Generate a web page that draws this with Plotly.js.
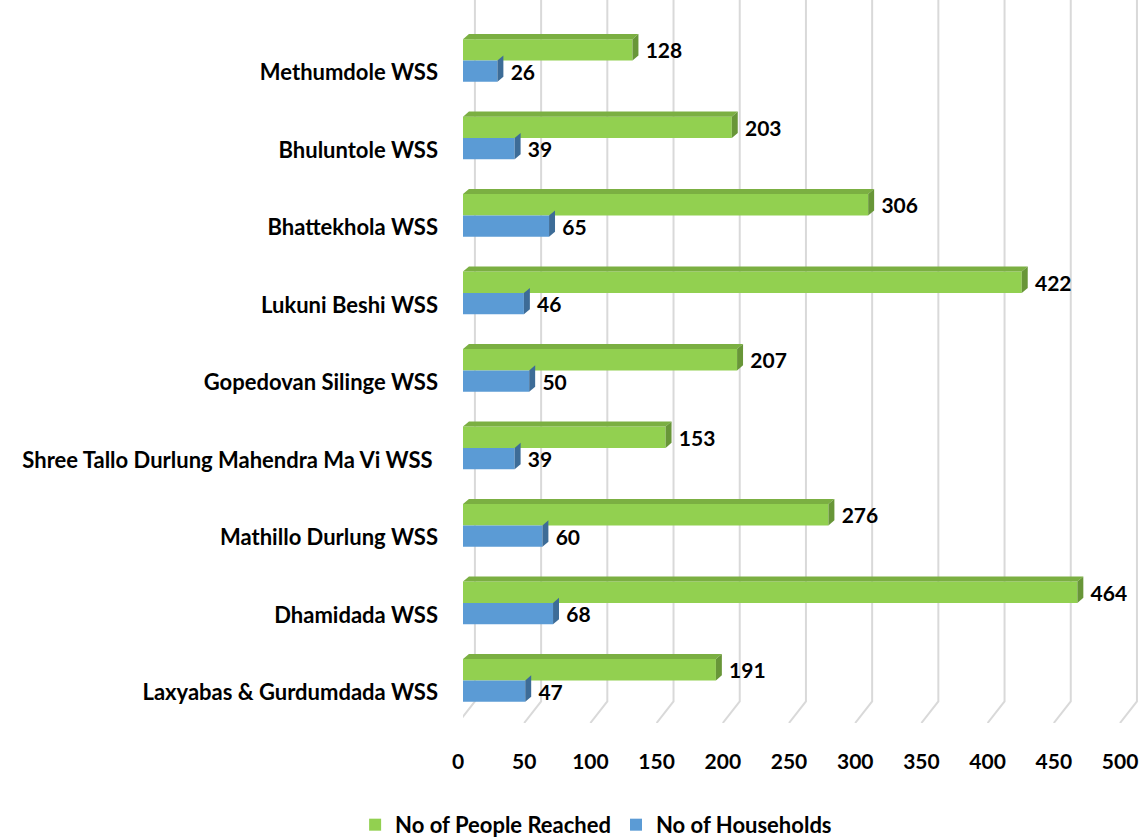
<!DOCTYPE html>
<html>
<head>
<meta charset="utf-8">
<script src="https://cdn.plot.ly/plotly-3.0.1.min.js"></script>
<style>html,body{margin:0;padding:0;background:#fff;}#chart{width:1142px;height:840px;}</style>
</head>
<body>
<div id="chart"></div>
<script>
var categories = [
  "Methumdole WSS",
  "Bhuluntole WSS",
  "Bhattekhola WSS",
  "Lukuni Beshi WSS",
  "Gopedovan Silinge WSS",
  "Shree Tallo Durlung Mahendra Ma Vi WSS ",
  "Mathillo Durlung WSS",
  "Dhamidada WSS",
  "Laxyabas & Gurdumdada WSS"
];
var peopleReached = [128, 203, 306, 422, 207, 153, 276, 464, 191];
var households = [26, 39, 65, 46, 50, 39, 60, 68, 47];
var seriesNames = ["No of People Reached", "No of Households"];
var xTickVals = [0, 50, 100, 150, 200, 250, 300, 350, 400, 450, 500];

var FONT = "Lato, 'Open Sans', sans-serif";
var idx = categories.map(function (c, i) { return i; });
var BW = 0.275;          // bar thickness (category units)
var DX = 4.5;            // depth in x data units
var DY = 0.065;          // depth in category units
var GREEN = "#92D050", GREEN_TOP = "#7BAF42", GREEN_SIDE = "#689638";
var BLUE = "#5B9BD5", BLUE_SIDE = "#3D6C97";

function poly(pts) {
  return "M" + pts.map(function (p) { return p[0] + "," + p[1]; }).join(" L") + " Z";
}

var shapes = [];
// back wall gridlines with floor slant
xTickVals.forEach(function (v) {
  shapes.push({
    type: "path", xref: "x", yref: "y", layer: "below",
    path: "M" + (v + 9) + ",-0.8 L" + (v + 9) + ",8.27 L" + (v - 3.8) + ",8.55",
    line: { color: "#D9D9D9", width: 2 }
  });
});
// 3D faces for bars
idx.forEach(function (i) {
  var v = peopleReached[i], h = households[i];
  var gTop = i - BW, gBot = i;
  shapes.push({ type: "path", xref: "x", yref: "y", line: { width: 0 }, fillcolor: GREEN_TOP,
    path: poly([[0, gTop], [v, gTop], [v + DX, gTop - DY], [DX, gTop - DY]]) });
  shapes.push({ type: "path", xref: "x", yref: "y", line: { width: 0 }, fillcolor: GREEN_SIDE,
    path: poly([[v, gTop], [v + DX, gTop - DY], [v + DX, gBot - DY], [v, gBot]]) });
  var bTop = i, bBot = i + BW;
  shapes.push({ type: "path", xref: "x", yref: "y", line: { width: 0 }, fillcolor: BLUE_SIDE,
    path: poly([[h, bTop], [h + DX, bTop - DY], [h + DX, bBot - DY], [h, bBot]]) });
});

var labelFont = { family: FONT, size: 21, color: "#000", weight: "bold" };

var traces = [
  {
    type: "bar", orientation: "h", name: seriesNames[0],
    x: peopleReached, y: idx,
    marker: { color: GREEN, line: { width: 0 } },
    text: peopleReached.map(function (v) { return "\u00a0\u00a0" + v; }),
    textposition: "outside", textfont: labelFont, constraintext: "none", cliponaxis: false,
    hoverinfo: "x+name"
  },
  {
    type: "bar", orientation: "h", name: seriesNames[1],
    x: households, y: idx,
    marker: { color: BLUE, line: { width: 0 } },
    text: households.map(function (v) { return "\u00a0\u00a0" + v; }),
    textposition: "outside", textfont: labelFont, constraintext: "none", cliponaxis: false,
    hoverinfo: "x+name"
  }
];

var layout = {
  width: 1142, height: 840,
  paper_bgcolor: "#fff", plot_bgcolor: "rgba(0,0,0,0)",
  margin: { l: 463, r: 2, t: 0, b: 117, autoexpand: false },
  barmode: "group", bargap: 0.45, bargroupgap: 0,
  font: { family: FONT, size: 21, color: "#000" },
  showlegend: true,
  legend: {
    orientation: "h", xref: "container", yref: "container",
    x: 0.522, xanchor: "center", y: 0.018, yanchor: "middle",
    font: { family: FONT, size: 22, color: "#000", weight: "bold" },
    itemwidth: 30,
    itemclick: false, itemdoubleclick: false, traceorder: "normal"
  },
  xaxis: {
    range: [0, 511.3], tickvals: xTickVals, ticktext: xTickVals.map(String),
    showgrid: false, zeroline: false, showline: false, ticks: "",
    ticklabelstandoff: 24, ticklabelshift: -5, ticklabeloverflow: "allow",
    tickfont: { family: FONT, size: 21, color: "#000", weight: "bold" },
    fixedrange: true
  },
  yaxis: {
    range: [8.55, -0.78], tickvals: idx, ticktext: categories,
    showgrid: false, zeroline: false, showline: false, ticks: "",
    ticklabelstandoff: 24, ticklabelshift: -12,
    tickfont: { family: FONT, size: 22, color: "#000", weight: "bold" },
    fixedrange: true
  },
  shapes: shapes
};

Plotly.newPlot("chart", traces, layout, { displayModeBar: false, staticPlot: true });
</script>
</body>
</html>
